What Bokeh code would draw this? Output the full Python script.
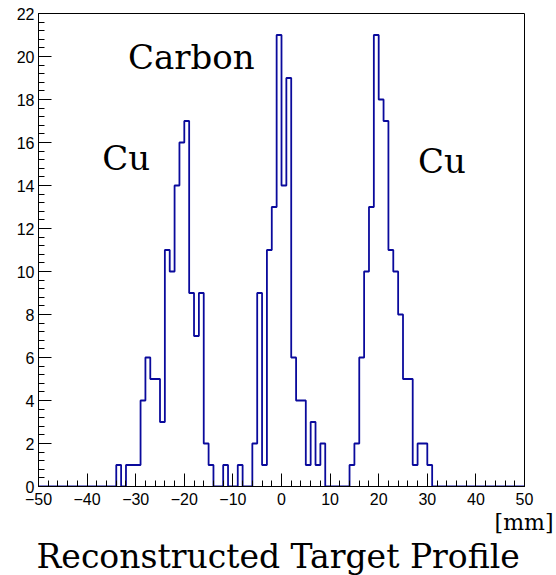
from bokeh.plotting import figure
from bokeh.models import Range1d, FixedTicker, Label, Title
from bokeh.embed import file_html
from bokeh.resources import INLINE

# Histogram: 100 bins of 1 mm from -50 to 50
bin_edges = list(range(-50, 51))
counts = (
    [0] * 16                                   # -50 .. -35
    + [1, 0, 1, 1, 1, 4, 6, 5, 5, 3]           # -34 .. -25
    + [11, 10, 14, 16, 17, 9, 7, 9, 2, 1]      # -24 .. -15
    + [0, 0, 1, 0, 0, 1, 0, 0, 2, 9]           # -14 .. -5
    + [1, 11, 13, 21, 14, 19, 6, 4, 4, 1]      # -4 .. 5
    + [3, 1, 2, 0, 0, 0, 0, 0, 1, 2]           # 6 .. 15
    + [6, 10, 13, 21, 18, 17, 11, 10, 8, 5]    # 16 .. 25
    + [5, 1, 2, 2, 1, 0, 0, 0, 0, 0]           # 26 .. 35
    + [0] * 14                                 # 36 .. 49
)

x_ticks = list(range(-50, 51, 10))
x_minor = list(range(-50, 51, 2))
y_ticks = list(range(0, 23, 2))
y_minor = [i * 0.4 for i in range(0, 56)]

annotations = [("Carbon", -31.6, 20.0), ("Cu", -36.9, 15.27), ("Cu", 28.1, 15.15)]
x_title = "[mm]"
main_title = "Reconstructed Target Profile"

p = figure(width=556, height=575, output_backend="svg", toolbar_location=None,
           x_range=Range1d(-50, 50), y_range=Range1d(0, 22),
           min_border_left=38, min_border_right=32, min_border_top=13,
           min_border_bottom=89)
p.grid.visible = False
p.outline_line_color = "black"
p.outline_line_width = 1
p.background_fill_color = "white"
p.border_fill_color = "white"

p.step(x=bin_edges, y=counts + [counts[-1]], mode="after",
       line_color="#0a0a9c", line_width=1.8)

for ax, ticks, minor in ((p.xaxis[0], x_ticks, x_minor), (p.yaxis[0], y_ticks, y_minor)):
    ax.ticker = FixedTicker(ticks=ticks, minor_ticks=minor)
    ax.major_tick_in = 13
    ax.major_tick_out = 0
    ax.minor_tick_in = 6
    ax.minor_tick_out = 0
    ax.axis_line_color = "black"
    ax.major_tick_line_color = "black"
    ax.minor_tick_line_color = "black"
    ax.major_label_text_font = "Liberation Sans"
    ax.major_label_text_font_size = "16px"
    ax.major_label_text_color = "black"
    ax.major_label_overrides = {t: str(t).replace("-", "\u2212") for t in ticks}

p.xaxis[0].major_label_standoff = 6
p.yaxis[0].major_label_standoff = 4

for txt, x, y in annotations:
    p.add_layout(Label(x=x, y=y, text=txt, text_font="DejaVu Serif",
                       text_font_size="34px", text_color="black",
                       text_baseline="alphabetic", text_align="left"))

p.add_layout(Title(text=x_title, align="right", offset=-29, standoff=0,
                   text_font="DejaVu Serif", text_font_size="22px",
                   text_font_style="normal", text_color="black"), "below")
p.add_layout(Title(text=main_title, align="left", offset=-2, standoff=0,
                   text_font="DejaVu Serif", text_font_size="33px",
                   text_font_style="normal", text_color="black"), "below")

open("out.html", "w").write(file_html(p, INLINE))
